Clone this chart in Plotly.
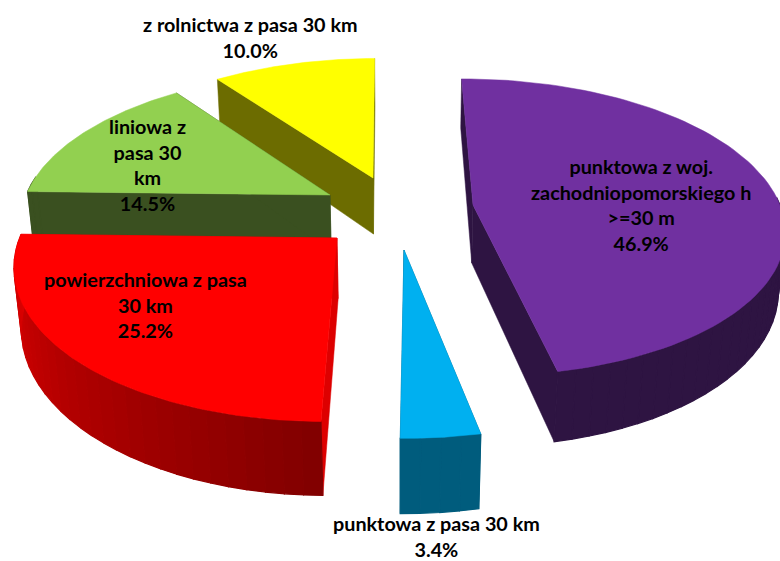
import math
import numpy as np
import plotly.graph_objects as go

labels = ["punktowa z woj.<br>zachodniopomorskiego h<br>>=30 m<br>46.9%",
          "punktowa z pasa 30 km<br>3.4%",
          "powierzchniowa z pasa<br>30 km<br>25.2%",
          "liniowa z<br>pasa 30<br>km<br>14.5%",
          "z rolnictwa z pasa 30 km<br>10.0%"]
values = [46.9, 3.4, 25.2, 14.5, 10.0]

top_colors = ["#7030A0", "#00B0F0", "#FF0000", "#92D050", "#FFFF00"]
wall_colors = [(46, 20, 66), (0, 92, 125), (150, 0, 0), (58, 80, 32), (108, 108, 0)]
cut_colors = [(46, 20, 66), (0, 92, 125), (221, 0, 0), (58, 80, 32), (108, 108, 0)]
apex = [(473, 205), (404, 250), (337, 238), (330, 195), (373, 178)]
label_xy = [(641, 204), (436, 536), (145, 304), (147, 164), (250, 37)]
draw_order = [4, 3, 0, 2, 1]

R, TILT, Q, H = 307.0, 145.0, 0.15, 58.0
VX, Y0, NADIR_Y = 400.0, 205.0, 3500.0
START = -0.4


def to_plane(x, y):
    w = Y0 - y
    v = w / (TILT - Q * w)
    s = 1.0 / (1.0 + Q * v)
    return (x - VX) / s / R, v


def to_screen(u, v):
    s = 1.0 / (1.0 + Q * v)
    x = VX + R * u * s
    y = Y0 - TILT * v * s
    dy = H * s ** 1.2
    return x, y, x + (VX - x) * dy / (NADIR_Y - y), y + dy


def rim(i, deg):
    t = math.radians(deg)
    u0, v0 = to_plane(*apex[i])
    return to_screen(u0 + math.sin(t), v0 + math.cos(t))


def shade(c, f):
    return "rgb(%d,%d,%d)" % tuple(min(255, int(v * f)) for v in c)


fig = go.Figure()


def poly(xs, ys, color, width=1.0):
    fig.add_trace(go.Scatter(x=xs, y=ys, mode="lines", fill="toself", fillcolor=color,
                             line=dict(color=color, width=width), hoverinfo="skip", showlegend=False))


angles = START + np.concatenate([[0], np.cumsum(values)]) * 3.6
for i in draw_order:
    a0, a1 = angles[i], angles[i + 1]
    u0, v0 = to_plane(*apex[i])
    ax, ay, bx, by = to_screen(u0, v0)
    for a in (a0, a1):
        x, y, xb, yb = rim(i, a)
        poly([ax, x, xb, bx, ax], [ay, y, yb, by, ay], shade(cut_colors[i], 1.0), 0.5)
    arc = np.linspace(a0, a1, max(4, int((a1 - a0) / 3)) + 1)
    for j in range(len(arc) - 1):
        if not 85 <= arc[j] <= 275:
            continue
        p, q = rim(i, arc[j]), rim(i, arc[j + 1])
        f = 0.87 + 0.63 * (arc[j] - a0) / (a1 - a0) if i == 2 else 1.0
        poly([p[0], q[0], q[2], p[2], p[0]], [p[1], q[1], q[3], p[3], p[1]], shade(wall_colors[i], f), 1.2)
    pts = [rim(i, a) for a in np.linspace(a0, a1, 90)]
    poly([ax] + [p[0] for p in pts] + [ax], [ay] + [p[1] for p in pts] + [ay], top_colors[i], 0.5)

for lab, (x, y) in zip(labels, label_xy):
    fig.add_annotation(x=x, y=y, text=lab, showarrow=False, xref="x", yref="y",
                       font=dict(family="Lato", size=19.8, color="black", weight="bold"), align="center")

fig.update_layout(width=780, height=561, margin=dict(l=0, r=0, t=0, b=0),
                  paper_bgcolor="white", plot_bgcolor="white", showlegend=False,
                  xaxis=dict(range=[0, 780], visible=False, fixedrange=True),
                  yaxis=dict(range=[561, 0], visible=False, fixedrange=True))
fig.write_html("out.html", config={"displayModeBar": False},
               post_script="document.body.style.margin='0';document.documentElement.style.overflow='hidden';")
